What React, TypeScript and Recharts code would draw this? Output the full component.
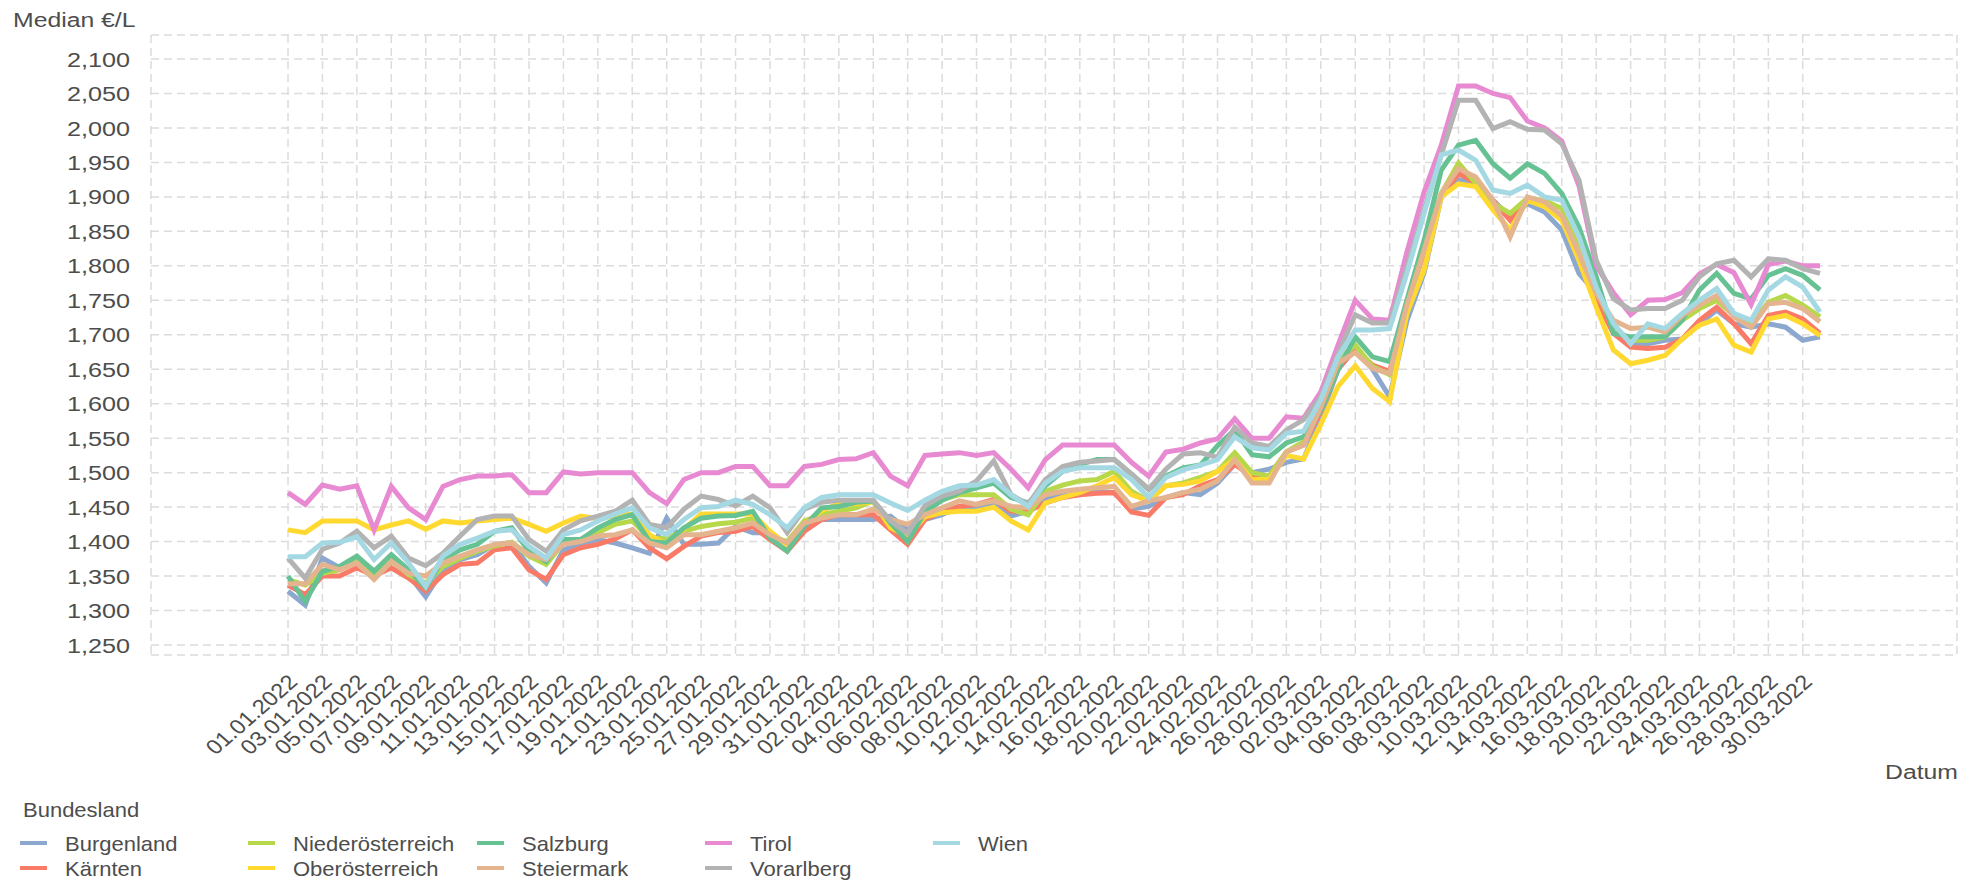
import React from 'react';
import { LineChart, Line, XAxis, YAxis, CartesianGrid } from 'recharts';

const tickLabels = [
  '01.01.2022', '03.01.2022', '05.01.2022', '07.01.2022', '09.01.2022', '11.01.2022', '13.01.2022', '15.01.2022',
  '17.01.2022', '19.01.2022', '21.01.2022', '23.01.2022', '25.01.2022', '27.01.2022', '29.01.2022', '31.01.2022',
  '02.02.2022', '04.02.2022', '06.02.2022', '08.02.2022', '10.02.2022', '12.02.2022', '14.02.2022', '16.02.2022',
  '18.02.2022', '20.02.2022', '22.02.2022', '24.02.2022', '26.02.2022', '28.02.2022',
  '02.03.2022', '04.03.2022', '06.03.2022', '08.03.2022', '10.03.2022', '12.03.2022', '14.03.2022', '16.03.2022',
  '18.03.2022', '20.03.2022', '22.03.2022', '24.03.2022', '26.03.2022', '28.03.2022', '30.03.2022',
];

const yTicks = [1250, 1300, 1350, 1400, 1450, 1500, 1550, 1600, 1650, 1700, 1750, 1800, 1850, 1900, 1950, 2000, 2050, 2100];

const burgenland = [
  1328, 1308, 1376, 1362, 1369, 1350, 1374, 1352, 1320, 1359, 1374, 1381, 1396, 1398, 1364, 1340, 1388, 1396, 1403, 1398,
  1391, 1383, 1434, 1396, 1396, 1398, 1422, 1413, 1413, 1396, 1422, 1432, 1432, 1432, 1432, 1437, 1417, 1432, 1439,
  1451, 1451, 1454, 1437, 1444, 1461, 1468, 1471, 1473, 1471, 1447, 1451, 1464, 1471, 1468, 1485, 1512,
  1500, 1505, 1515, 1520, 1580, 1650, 1680, 1650, 1610, 1720, 1790, 1900, 1925, 1920, 1895,
  1871, 1890, 1878, 1852, 1789, 1760, 1711, 1687, 1687, 1692, 1694, 1716, 1736, 1716, 1711, 1716, 1711, 1692, 1697,
];
const kaernten = [
  1337, 1323, 1350, 1350, 1362, 1350, 1362, 1347, 1328, 1352, 1367, 1369, 1388, 1391, 1359, 1345, 1381, 1391, 1396, 1404,
  1417, 1391, 1375, 1393, 1408, 1413, 1415, 1422, 1403, 1386, 1415, 1432, 1439, 1439, 1439, 1417, 1396, 1432, 1444,
  1451, 1454, 1461, 1444, 1444, 1456, 1464, 1468, 1470, 1471, 1443, 1438, 1464, 1468, 1481, 1490, 1512,
  1495, 1495, 1530, 1540, 1590, 1650, 1680, 1656, 1647, 1740, 1820, 1900, 1934, 1920, 1895,
  1866, 1898, 1890, 1871, 1818, 1750, 1702, 1682, 1680, 1682, 1694, 1721, 1740, 1716, 1687, 1728, 1733, 1723, 1702,
];
const niederoesterreich = [
  1345, 1337, 1354, 1359, 1371, 1350, 1374, 1352, 1340, 1364, 1376, 1386, 1394, 1399, 1379, 1367, 1398, 1403, 1413, 1425,
  1430, 1405, 1405, 1415, 1422, 1426, 1428, 1434, 1408, 1400, 1430, 1439, 1444, 1449, 1459, 1422, 1410, 1445, 1461,
  1468, 1468, 1468, 1447, 1439, 1473, 1482, 1488, 1490, 1502, 1473, 1459, 1481, 1485, 1493, 1502, 1529,
  1500, 1495, 1530, 1545, 1600, 1664, 1685, 1654, 1642, 1731, 1828, 1905, 1949, 1920, 1891,
  1876, 1898, 1895, 1883, 1827, 1765, 1711, 1692, 1692, 1697, 1721, 1738, 1750, 1728, 1716, 1747, 1757, 1743, 1726,
];
const oberoesterreich = [
  1417, 1413, 1430, 1430, 1430, 1417, 1424, 1430, 1418, 1430, 1427, 1430, 1432, 1434, 1425, 1415, 1427, 1437, 1433, 1437,
  1440, 1410, 1395, 1418, 1440, 1440, 1440, 1440, 1415, 1395, 1425, 1445, 1455, 1455, 1458, 1420, 1408, 1436, 1442,
  1444, 1444, 1450, 1430, 1417, 1456, 1464, 1471, 1481, 1493, 1468, 1459, 1481, 1483, 1488, 1502, 1519,
  1490, 1490, 1525, 1520, 1570, 1625, 1655, 1622, 1603, 1731, 1794, 1900, 1919, 1915, 1881,
  1852, 1895, 1886, 1866, 1808, 1740, 1678, 1658, 1663, 1670, 1694, 1714, 1723, 1685, 1675, 1723, 1728, 1716, 1699,
];
const salzburg = [
  1350, 1313, 1357, 1364, 1379, 1357, 1381, 1359, 1333, 1374, 1388, 1396, 1415, 1420, 1386, 1371, 1403, 1403, 1420, 1432,
  1439, 1400, 1398, 1420, 1434, 1437, 1438, 1444, 1405, 1386, 1422, 1449, 1451, 1457, 1459, 1427, 1400, 1443, 1460,
  1471, 1478, 1485, 1464, 1456, 1481, 1502, 1512, 1519, 1519, 1498, 1476, 1495, 1507, 1511, 1539, 1562,
  1526, 1523, 1543, 1552, 1591, 1649, 1697, 1668, 1661, 1750, 1837, 1939, 1975, 1982, 1948,
  1927, 1948, 1934, 1905, 1856, 1784, 1702, 1697, 1697, 1697, 1721, 1765, 1789, 1760, 1752, 1786, 1796, 1786, 1765,
];
const steiermark = [
  1339, 1339, 1367, 1359, 1369, 1345, 1371, 1354, 1350, 1369, 1379, 1388, 1396, 1398, 1381, 1374, 1396, 1400, 1408, 1410,
  1417, 1398, 1391, 1410, 1410, 1415, 1420, 1427, 1410, 1398, 1427, 1434, 1439, 1439, 1447, 1432, 1425, 1439, 1449,
  1459, 1454, 1459, 1451, 1449, 1468, 1473, 1476, 1478, 1480, 1451, 1459, 1464, 1471, 1476, 1488, 1519,
  1485, 1485, 1530, 1540, 1595, 1659, 1674, 1651, 1644, 1743, 1823, 1905, 1941, 1929, 1895,
  1842, 1900, 1893, 1873, 1818, 1760, 1721, 1709, 1711, 1704, 1728, 1743, 1757, 1726, 1711, 1745, 1747, 1738, 1719,
];
const tirol = [
  1471, 1454, 1482, 1476, 1481, 1417, 1480, 1449, 1432, 1480, 1490, 1495, 1495, 1497, 1471, 1471, 1501, 1498, 1500, 1500,
  1500, 1471, 1455, 1490, 1500, 1500, 1509, 1509, 1481, 1481, 1509, 1512, 1519, 1520, 1529, 1495, 1481, 1525, 1527,
  1529, 1525, 1529, 1505, 1478, 1519, 1540, 1540, 1540, 1540, 1515, 1495, 1530, 1534, 1543, 1549, 1578,
  1550, 1550, 1581, 1579, 1617, 1685, 1750, 1723, 1721, 1820, 1907, 1975, 2061, 2061, 2050,
  2044, 2010, 2000, 1981, 1916, 1800, 1761, 1729, 1750, 1751, 1761, 1788, 1802, 1790, 1744, 1802, 1807, 1800, 1800,
];
const vorarlberg = [
  1376, 1347, 1389, 1398, 1415, 1391, 1408, 1376, 1365, 1383, 1408, 1432, 1437, 1437, 1403, 1386, 1417, 1430, 1437, 1444,
  1460, 1425, 1420, 1447, 1466, 1461, 1452, 1466, 1449, 1413, 1447, 1457, 1460, 1460, 1460, 1430, 1412, 1452, 1466,
  1473, 1488, 1517, 1468, 1454, 1490, 1509, 1515, 1517, 1519, 1498, 1476, 1505, 1527, 1529, 1522, 1566,
  1543, 1538, 1562, 1577, 1610, 1673, 1729, 1717, 1717, 1799, 1881, 1961, 2040, 2040, 1999,
  2009, 1998, 1997, 1977, 1924, 1808, 1752, 1736, 1738, 1738, 1750, 1784, 1803, 1808, 1784, 1810, 1808, 1796, 1789,
];
const wien = [
  1378, 1378, 1398, 1399, 1407, 1374, 1398, 1369, 1335, 1379, 1396, 1405, 1415, 1417, 1393, 1376, 1410, 1417, 1430, 1440,
  1449, 1420, 1410, 1432, 1449, 1451, 1460, 1454, 1439, 1420, 1449, 1464, 1468, 1468, 1468, 1456, 1445, 1460, 1473,
  1481, 1482, 1490, 1468, 1451, 1485, 1502, 1507, 1507, 1507, 1490, 1464, 1493, 1504, 1511, 1519, 1552,
  1536, 1533, 1557, 1560, 1606, 1668, 1707, 1707, 1709, 1789, 1876, 1961, 1968, 1953, 1910,
  1905, 1917, 1900, 1895, 1842, 1769, 1716, 1687, 1716, 1709, 1731, 1750, 1767, 1731, 1721, 1765, 1784, 1769, 1733,
];

const seriesNames = ['Burgenland', 'Kärnten', 'Niederösterreich', 'Oberösterreich', 'Salzburg', 'Steiermark', 'Tirol', 'Vorarlberg', 'Wien'];
const seriesValues = [burgenland, kaernten, niederoesterreich, oberoesterreich, salzburg, steiermark, tirol, vorarlberg, wien];
const seriesColors = ['#8DA8CF', '#FA7A68', '#B7D84B', '#FFD92F', '#66C293', '#E4B48F', '#E78AD1', '#B3B3B3', '#A4D9E3'];

const data = burgenland.map((_, i) => {
  const row: Record<string, number> = { day: i };
  seriesNames.forEach((n, k) => { row[n] = seriesValues[k][i]; });
  return row;
});
const xTicks = tickLabels.map((_, k) => k * 2);

const FONT = '"Liberation Sans", Arial, sans-serif';
const SX = 1.18;
const TXT = '#4D4D4D';

const YTick = (props: any) => {
  const { x, y, payload } = props;
  return (
    <text transform={`translate(${x},${y}) scale(1.2,1)`} textAnchor="end" dy="0.36em" fill={TXT} fontSize={21} fontFamily={FONT}>
      {Number(payload.value).toLocaleString('en-US')}
    </text>
  );
};

const XTick = (props: any) => {
  const { x, y, payload } = props;
  const label = tickLabels[Math.round(payload.value / 2)] ?? '';
  return (
    <text transform={`translate(${x - 1},${y + 18}) scale(1.15,1) rotate(-45)`} textAnchor="end" dy="0.71em" fill={TXT} fontSize={20.5} fontFamily={FONT}>
      {label}
    </text>
  );
};

const legendCols = [20, 248, 477, 705, 933];
const legendRows = [851, 876];

export default function App() {
  return (
    <div style={{ position: 'absolute', left: 0, top: 0, width: 1974, height: 881, background: '#fff' }}>
      <LineChart width={1974} height={881} data={data} margin={{ top: 35, right: 17, left: 0, bottom: 0 }}>
        <CartesianGrid stroke="#DCDCDC" strokeDasharray="8 5" strokeWidth={1.5} />
        <XAxis
          dataKey="day"
          type="number"
          domain={[-7.96, 96.96]}
          ticks={xTicks}
          interval={0}
          height={226}
          axisLine={false}
          tickLine={false}
          tickSize={0}
          tickMargin={0}
          tick={<XTick />}
        />
        <YAxis
          type="number"
          domain={[1235.5, 2134.8]}
          ticks={yTicks}
          interval={0}
          width={151}
          axisLine={false}
          tickLine={false}
          tickSize={0}
          tickMargin={21}
          tick={<YTick />}
        />
        {seriesNames.map((n, k) => (
          <Line key={n} type="linear" dataKey={n} stroke={seriesColors[k]} strokeWidth={5} dot={false} activeDot={false} isAnimationActive={false} />
        ))}
      </LineChart>
      <svg width={1974} height={881} style={{ position: 'absolute', left: 0, top: 0, pointerEvents: 'none' }}>
        <text transform={`translate(13,27) scale(${SX},1)`} fill={TXT} fontSize={21} fontFamily={FONT}>Median €/L</text>
        <text transform={`translate(1958,779) scale(${SX},1)`} textAnchor="end" fill={TXT} fontSize={21} fontFamily={FONT}>Datum</text>
        <text transform={`translate(23,817) scale(1.1,1)`} fill={TXT} fontSize={20} fontFamily={FONT}>Bundesland</text>
        {seriesNames.map((n, k) => {
          const cx = legendCols[Math.floor(k / 2)];
          const cy = legendRows[k % 2];
          return (
            <g key={n}>
              <line x1={cx} x2={cx + 27} y1={cy - 8} y2={cy - 8} stroke={seriesColors[k]} strokeWidth={4} />
              <text transform={`translate(${cx + 45},${cy}) scale(1.1,1)`} fill={TXT} fontSize={20} fontFamily={FONT}>{n}</text>
            </g>
          );
        })}
      </svg>
    </div>
  );
}
